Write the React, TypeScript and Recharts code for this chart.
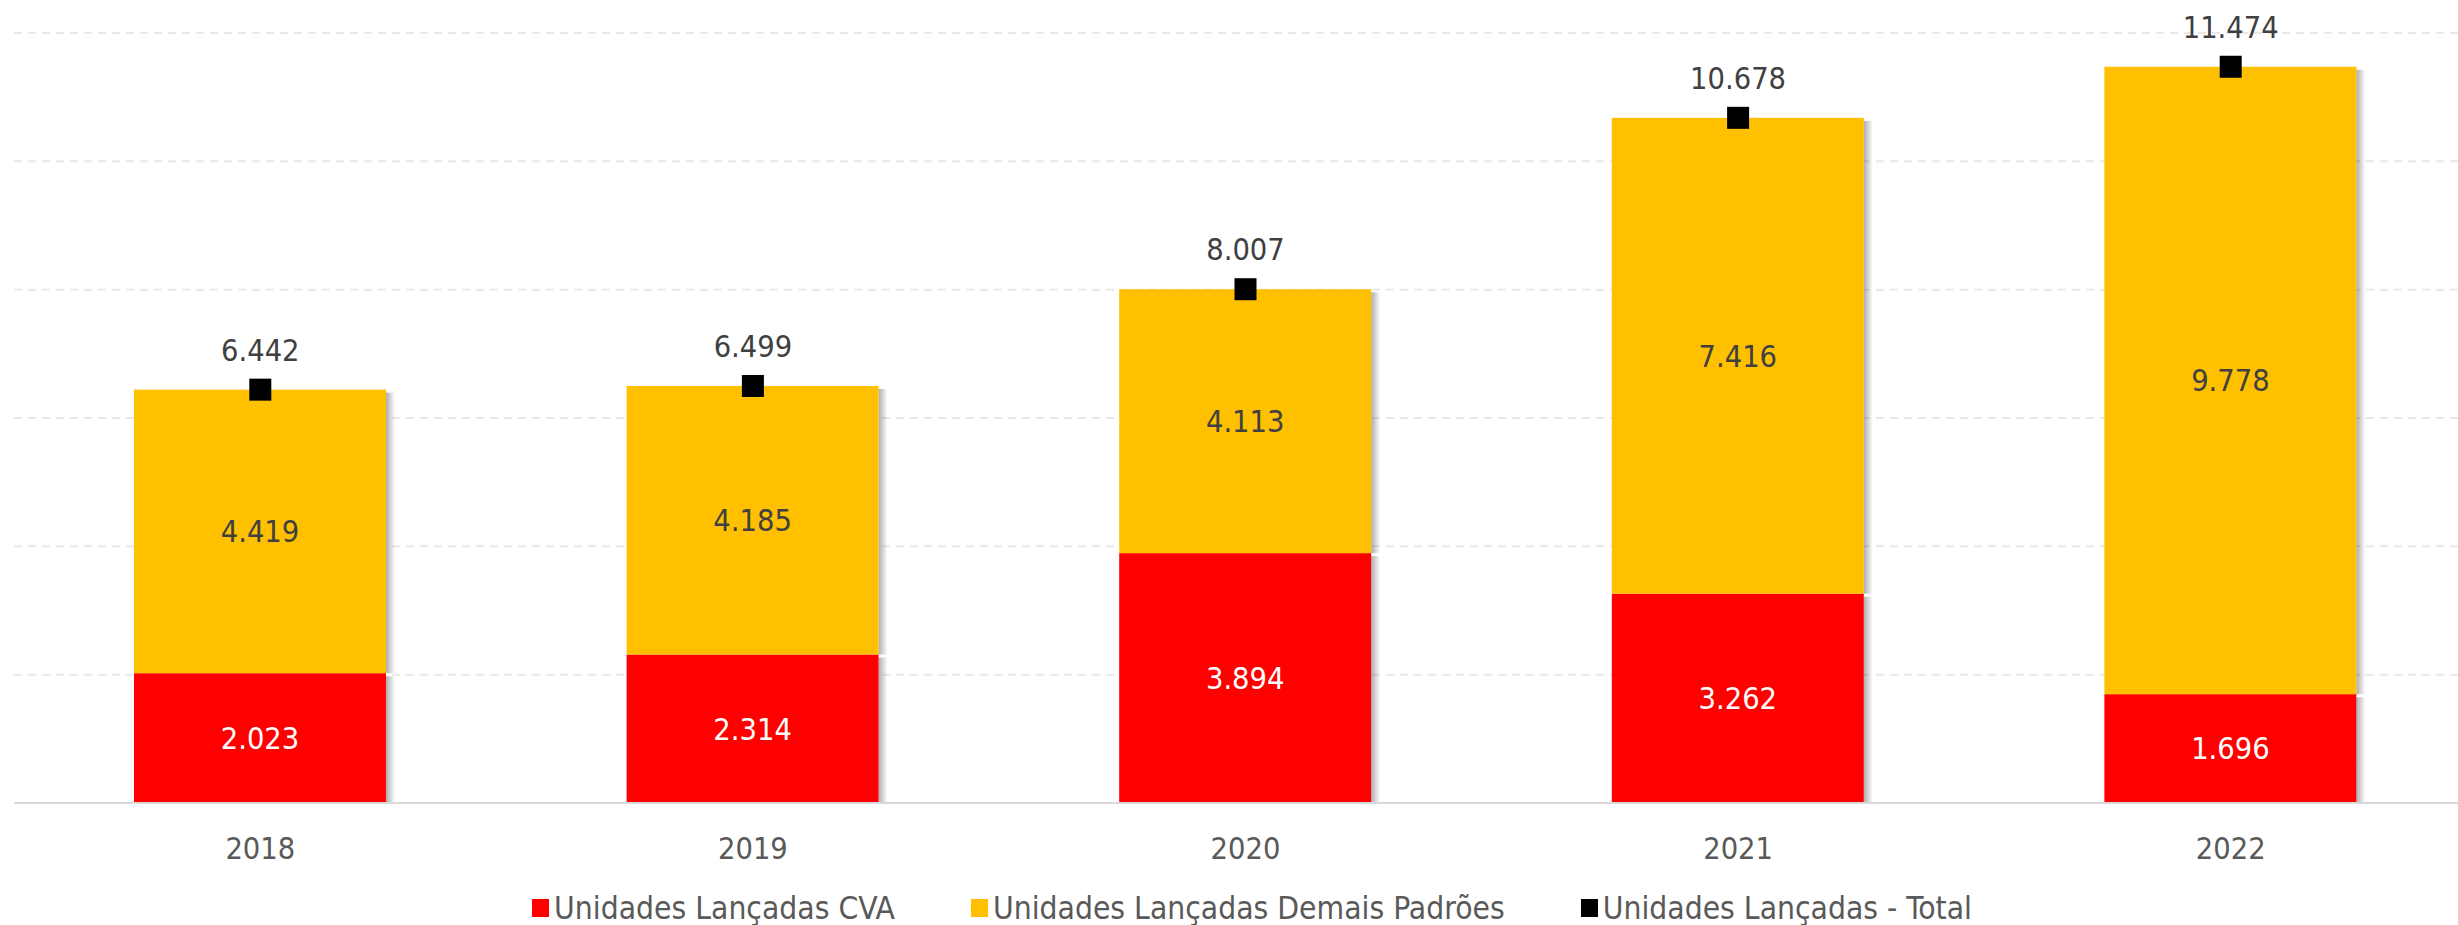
import React from 'react';
import { ComposedChart, Bar, Line, XAxis, YAxis, CartesianGrid, LabelList, Legend } from 'recharts';

const years = ['2018', '2019', '2020', '2021', '2022'];
const cvaUnits = [2023, 2314, 3894, 3262, 1696];
const otherUnits = [4419, 4185, 4113, 7416, 9778];
const totalUnits = [6442, 6499, 8007, 10678, 11474];
const yTicks = [0, 2000, 4000, 6000, 8000, 10000, 12000];

const seriesNames = ['Unidades Lançadas CVA', 'Unidades Lançadas Demais Padrões', 'Unidades Lançadas - Total'];
const seriesColors = ['#FF0000', '#FFC000', '#000000'];

const data = years.map((year, i) => ({
  year,
  cva: cvaUnits[i],
  other: otherUnits[i],
  total: totalUnits[i],
}));

const FONT = "'DejaVu Sans Condensed', 'DejaVu Sans', sans-serif";
const FS = 30.5;
const LFS = 31.5;

const fmt = (v: number) => String(v).replace(/\B(?=(\d{3})+(?!\d))/g, '.');

const makeShape = (withBottom: boolean) => (props: any) => {
  const { x, y, width, height, fill } = props;
  return (
    <g>
      <rect x={x + width} y={y + 3} width={9} height={Math.max(0, height - 3 + (withBottom ? 5 : 0))} fill="url(#shR)" />
      {withBottom && <rect x={x + 3} y={y + height} width={width - 3} height={5} fill="url(#shB)" />}
      <rect x={x} y={y} width={width} height={height} fill={fill} />
    </g>
  );
};

const SquareDot = (props: any) => {
  const { cx, cy } = props;
  if (cx == null || cy == null) return null;
  return <rect x={cx - 11} y={cy - 11} width={22} height={22} fill="#000" />;
};

const TotalLabel = (props: any) => {
  const { x, y, value } = props;
  return (
    <text x={x} y={y - 29} textAnchor="middle" fill="#404040" fontSize={FS} fontFamily={FONT}>
      {fmt(value)}
    </text>
  );
};

const YearTick = (props: any) => {
  const { x, y, payload } = props;
  return (
    <text x={x} y={y + 56} textAnchor="middle" fill="#595959" fontSize={FS} fontFamily={FONT}>
      {payload.value}
    </text>
  );
};

const LegendContent = () => (
  <div
    style={{
      display: 'flex',
      justifyContent: 'center',
      alignItems: 'center',
      height: 40,
      paddingTop: 6,
      boxSizing: 'border-box',
      fontFamily: FONT,
      fontSize: LFS,
      color: '#595959',
      whiteSpace: 'nowrap',
    }}
  >
    {seriesNames.map((name, i) => (
      <div key={name} style={{ display: 'flex', alignItems: 'center', marginRight: i < seriesNames.length - 1 ? 76 : 0 }}>
        <span style={{ display: 'inline-block', width: 17, height: 18, background: seriesColors[i], marginRight: 5 }} />
        <span>{name}</span>
      </div>
    ))}
  </div>
);

export default function App() {
  return (
    <div style={{ position: 'fixed', left: 0, top: 0, width: 2458, height: 925, overflow: 'hidden', background: '#fff' }}>
      <svg width={0} height={0} style={{ position: 'absolute' }}>
        <defs>
          <linearGradient id="shR" x1="0" y1="0" x2="1" y2="0">
            <stop offset="0%" stopColor="#000" stopOpacity={0.32} />
            <stop offset="100%" stopColor="#000" stopOpacity={0} />
          </linearGradient>
          <linearGradient id="shB" x1="0" y1="0" x2="0" y2="1">
            <stop offset="0%" stopColor="#000" stopOpacity={0.3} />
            <stop offset="100%" stopColor="#000" stopOpacity={0} />
          </linearGradient>
        </defs>
      </svg>
      <ComposedChart
        width={2480}
        height={925}
        data={data}
        margin={{ top: 33, right: 3, left: 14, bottom: 0 }}
      >
        <CartesianGrid vertical={false} stroke="#e8e8e8" strokeWidth={2} strokeDasharray="8 6" />
        <XAxis
          dataKey="year"
          height={82}
          tickLine={false}
          tickSize={0}
          tickMargin={0}
          axisLine={{ stroke: '#d9d9d9', strokeWidth: 2 }}
          tick={<YearTick />}
          interval={0}
        />
        <YAxis hide domain={[0, 12000]} ticks={yTicks} allowDataOverflow />
        <Legend verticalAlign="bottom" height={40} wrapperStyle={{ left: 0, width: 2504, bottom: 0 }} content={<LegendContent />} />
        <Bar dataKey="cva" name={seriesNames[0]} stackId="a" fill={seriesColors[0]} barSize={252} isAnimationActive={false} shape={makeShape(true)} legendType="square">
          <LabelList dataKey="cva" position="center" fill="#FFFFFF" fontSize={FS} fontFamily={FONT} formatter={(v: any) => fmt(v)} />
        </Bar>
        <Bar dataKey="other" name={seriesNames[1]} stackId="a" fill={seriesColors[1]} barSize={252} isAnimationActive={false} shape={makeShape(false)} legendType="square">
          <LabelList dataKey="other" position="center" fill="#404040" fontSize={FS} fontFamily={FONT} formatter={(v: any) => fmt(v)} />
        </Bar>
        <Line
          dataKey="total"
          name={seriesNames[2]}
          stroke="none"
          isAnimationActive={false}
          dot={<SquareDot />}
          activeDot={false}
          legendType="square"
        >
          <LabelList dataKey="total" content={<TotalLabel />} />
        </Line>
      </ComposedChart>
    </div>
  );
}
